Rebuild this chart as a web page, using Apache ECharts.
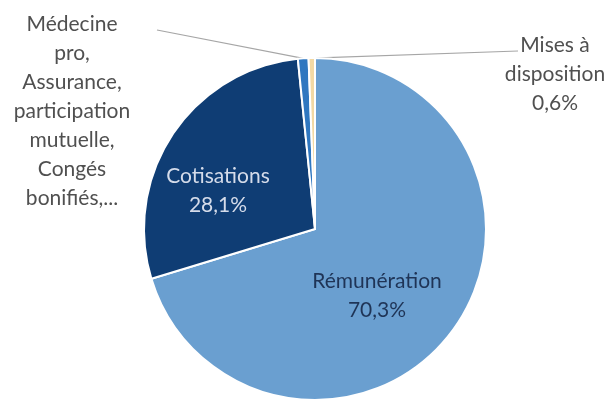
<!DOCTYPE html>
<html>
<head>
<meta charset="utf-8">
<script src="https://cdn.jsdelivr.net/npm/echarts@6/dist/echarts.min.js"></script>
<style>
  html, body { margin: 0; padding: 0; background: #ffffff; }
  #chart { width: 611px; height: 400px; }
</style>
</head>
<body>
<div id="chart"></div>
<script>
// Répartition des dépenses de personnel (en % du total)
const categories = [
  'Rémunération',
  'Cotisations',
  'Médecine pro, Assurance, participation mutuelle, Congés bonifiés,...',
  'Mises à disposition'
];
const shares = [70.3, 28.1, 1.0, 0.6];
const labelNames = [
  'Rémunération',
  'Cotisations',
  'Médecine\npro,\nAssurance,\nparticipation\nmutuelle,\nCongés\nbonifiés,...',
  'Mises à\ndisposition'
];
const showShare = [true, true, false, true];

// Presentation
const sliceColors = ['#6a9fd0', '#0f3d74', '#2f77c0', '#f3d9a4'];
const labelColors = ['#1f3456', '#d5dcea', '#505050', '#505050'];
const labelSpots = [
  { x: 377, y: 296 },
  { x: 218, y: 191 },
  { x: 72, y: 111, lineEnd: [157, 30] },
  { x: 555, y: 74, lineEnd: [518, 51] }
];

const fmtShare = v => v.toFixed(1).replace('.', ',') + '%';

const data = categories.map((name, i) => ({
  name: name,
  value: shares[i],
  itemStyle: { color: sliceColors[i] },
  label: {
    color: labelColors[i],
    formatter: showShare[i] ? labelNames[i] + '\n' + fmtShare(shares[i]) : labelNames[i]
  },
  labelLine: { show: !!labelSpots[i].lineEnd }
}));

const chart = echarts.init(document.getElementById('chart'), null, { renderer: 'canvas' });
chart.setOption({
  animation: false,
  backgroundColor: '#ffffff',
  series: [{
    type: 'pie',
    center: [315, 229],
    radius: 171,
    startAngle: 90,
    clockwise: true,
    silent: true,
    itemStyle: { borderColor: '#ffffff', borderWidth: 2 },
    label: {
      show: true,
      position: 'outside',
      fontFamily: 'Lato',
      fontSize: 21,
      lineHeight: 29,
      align: 'center',
      overflow: 'none'
    },
    labelLine: {
      lineStyle: { color: '#a6a6a6', width: 1.2 },
      length: 10,
      length2: 10
    },
    labelLayout: function (params) {
      const spot = labelSpots[params.dataIndex];
      const out = { x: spot.x, y: spot.y, align: 'center', verticalAlign: 'middle' };
      if (spot.lineEnd && params.labelLinePoints) {
        out.labelLinePoints = [params.labelLinePoints[0], spot.lineEnd];
      }
      return out;
    },
    data: data
  }]
});
</script>
</body>
</html>
